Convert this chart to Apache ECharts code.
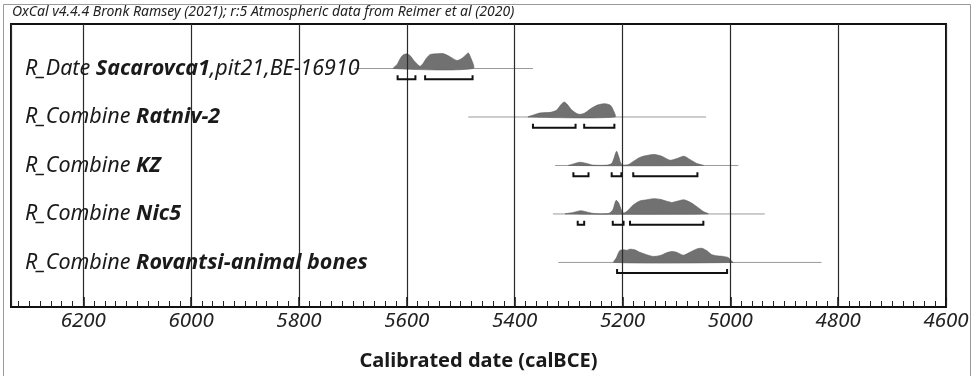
<!DOCTYPE html>
<html>
<head>
<meta charset="utf-8">
<script src="https://cdn.jsdelivr.net/npm/echarts@6/dist/echarts.min.js"></script>
<style>
  html, body { margin: 0; padding: 0; background: #fff; }
  #chart { width: 972px; height: 376px; }
</style>
</head>
<body>
<div id="chart"></div>
<script>
// ---- text ----
const headerText = 'OxCal v4.4.4 Bronk Ramsey (2021); r:5 Atmospheric data from Reimer et al (2020)';
const axisTitle = 'Calibrated date (calBCE)';

// ---- axis (calendar years BCE, drawn right-to-left) ----
const axisFrom = 4600;
const axisTo = 6334;
const majorStep = 200;
const minorStep = 20;

// ---- rows ----
const rowKinds = ['R_Date', 'R_Combine', 'R_Combine', 'R_Combine', 'R_Combine'];
const rowNames = ['Sacarovca1', 'Ratniv-2', 'KZ', 'Nic5', 'Rovantsi-animal bones'];
const rowSuffixes = [',pit21,BE-16910', '', '', '', ''];

// full extent of each calibrated distribution (thin line)
const extentStart = [5698, 5486, 5325, 5329, 5319];
const extentEnd = [5366, 5045, 4985, 4936, 4831];

// posterior / likelihood densities (year BCE, relative density)
const sacarovcaYears = [5625, 5618, 5612, 5607, 5600, 5594, 5587, 5579, 5575, 5570, 5564, 5557, 5546, 5533, 5520, 5507, 5498, 5490, 5486, 5483, 5477];
const sacarovcaDensity = [0, 0.26, 0.65, 0.87, 0.95, 0.84, 0.52, 0.23, 0.15, 0.32, 0.65, 0.9, 0.95, 0.97, 0.77, 0.52, 0.65, 0.9, 1.01, 0.84, 0];

const ratnivYears = [5375, 5365, 5353, 5334, 5322, 5313, 5308, 5303, 5294, 5285, 5279, 5270, 5257, 5245, 5232, 5223, 5218, 5214];
const ratnivDensity = [0, 0.13, 0.26, 0.3, 0.45, 0.84, 0.97, 0.84, 0.45, 0.23, 0.17, 0.26, 0.58, 0.79, 0.86, 0.77, 0.52, 0];

const kzYears = [5300, 5291, 5279, 5266, 5254, 5229, 5220, 5216, 5211, 5207, 5203, 5198, 5189, 5180, 5168, 5155, 5140, 5127, 5112, 5099, 5086, 5075, 5062, 5050];
const kzDensity = [0, 0.1, 0.21, 0.13, 0.02, 0.02, 0.13, 0.45, 0.92, 0.58, 0.13, 0.02, 0.06, 0.26, 0.52, 0.65, 0.71, 0.6, 0.34, 0.45, 0.6, 0.39, 0.13, 0];

const nic5Years = [5306, 5291, 5277, 5263, 5251, 5226, 5218, 5212, 5207, 5202, 5198, 5191, 5180, 5168, 5155, 5143, 5130, 5109, 5097, 5086, 5072, 5059, 5050, 5041];
const nic5Density = [0, 0.1, 0.21, 0.1, 0.02, 0.03, 0.26, 0.88, 0.71, 0.26, 0.06, 0.19, 0.58, 0.84, 0.92, 0.99, 0.95, 0.75, 0.84, 0.92, 0.71, 0.39, 0.16, 0];

const rovantsiYears = [5216, 5211, 5205, 5198, 5192, 5186, 5177, 5168, 5155, 5143, 5130, 5118, 5109, 5099, 5087, 5075, 5062, 5053, 5044, 5035, 5025, 5013, 5004, 4999, 4995];
const rovantsiDensity = [0, 0.32, 0.77, 0.82, 0.79, 0.86, 0.82, 0.66, 0.5, 0.39, 0.45, 0.63, 0.71, 0.65, 0.47, 0.66, 0.88, 0.92, 0.77, 0.52, 0.43, 0.39, 0.32, 0.13, 0];

const densityYears = [sacarovcaYears, ratnivYears, kzYears, nic5Years, rovantsiYears];
const densityValues = [sacarovcaDensity, ratnivDensity, kzDensity, nic5Density, rovantsiDensity];

// highest posterior density ranges (from, to) per row
const hpdRanges = [
  [[5617, 5584], [5566, 5478]],
  [[5366, 5287], [5271, 5215]],
  [[5291, 5263], [5220, 5202], [5180, 5061]],
  [[5283, 5271], [5218, 5198], [5186, 5050]],
  [[5210, 5006]]
];

// ---- drawing constants ----
const PEAK = 0.318;        // density 1.0 in row units
const BRACKET_DROP = 0.22; // bracket distance below the baseline, row units
const BRACKET_TIP = 4;     // bracket end tick height, px
const FONT = '"Noto Sans", sans-serif';

const chart = echarts.init(document.getElementById('chart'), null, { renderer: 'canvas' });

const rowItems = rowNames.map((_, i) => [extentStart[i], i]);
const bracketItems = [];
hpdRanges.forEach((list, r) => list.forEach(([a, b]) => bracketItems.push([a, b, r])));

const option = {
  animation: false,
  backgroundColor: '#fff',
  grid: {
    left: 11, right: 26, top: 24, bottom: 67,
    show: true, borderColor: '#111', borderWidth: 2, backgroundColor: 'transparent'
  },
  xAxis: [
    {
      type: 'value', min: axisFrom, max: axisTo, interval: majorStep, inverse: true,
      position: 'bottom',
      name: axisTitle, nameLocation: 'middle', nameGap: 44,
      nameTextStyle: { fontFamily: FONT, fontWeight: 'bold', fontSize: 20, color: '#1a1a1a' },
      axisLine: { show: true, onZero: false, lineStyle: { color: '#111', width: 2 } },
      axisTick: { show: true, inside: true, length: 10, lineStyle: { color: '#111', width: 1.5 } },
      axisLabel: {
        show: true, margin: 4, fontFamily: FONT, fontStyle: 'italic', fontSize: 20.5, color: '#222',
        showMaxLabel: false,
        formatter: v => (v % majorStep === 0 ? String(v) : '')
      },
      splitLine: { show: true, lineStyle: { color: '#2a2a2a', width: 1.2 } }
    },
    {
      type: 'value', min: axisFrom, max: axisTo, interval: minorStep, inverse: true,
      position: 'bottom',
      axisLine: { show: false, onZero: false },
      axisTick: { show: true, inside: true, length: 6, lineStyle: { color: '#222', width: 1 } },
      axisLabel: { show: false },
      splitLine: { show: false }
    }
  ],
  yAxis: {
    type: 'value', min: -0.918, max: 4.919, inverse: true, show: false
  },
  graphic: [
    {
      type: 'rect', silent: true, z: 0,
      shape: { x: 3.5, y: 4.5, width: 967, height: 390 },
      style: { fill: 'none', stroke: '#9a9a9a', lineWidth: 1 }
    },
    {
      type: 'text', left: 12, top: 5, z: 10,
      style: { text: headerText, font: 'italic 14px ' + FONT, fill: '#222' }
    }
  ],
  series: [
    {
      // full extent line of each distribution
      type: 'custom', name: 'extent', z: -2,
      data: rowItems,
      encode: { x: 0, y: 1 },
      renderItem: (params, api) => {
        const r = api.value(1);
        const p1 = api.coord([extentStart[r], r]);
        const p2 = api.coord([extentEnd[r], r]);
        return {
          type: 'line',
          shape: { x1: p1[0], y1: p1[1], x2: p2[0], y2: p2[1] },
          style: { stroke: '#9a9a9a', lineWidth: 1 }
        };
      }
    },
    {
      // probability densities
      type: 'custom', name: 'density', z: -1,
      data: rowItems,
      encode: { x: 0, y: 1 },
      renderItem: (params, api) => {
        const r = api.value(1);
        const ys = densityYears[r];
        const ds = densityValues[r];
        const pts = ys.map((y, k) => api.coord([y, r - ds[k] * PEAK]));
        return {
          type: 'polygon',
          shape: { points: pts, smooth: 0.25 },
          style: { fill: '#717171', stroke: '#5e5e5e', lineWidth: 0.6 }
        };
      }
    },
    {
      // HPD range brackets
      type: 'custom', name: 'ranges', z: 3,
      data: bracketItems,
      encode: { x: [0, 1], y: 2 },
      renderItem: (params, api) => {
        const r = api.value(2);
        const a = api.coord([api.value(0), r + BRACKET_DROP]);
        const b = api.coord([api.value(1), r + BRACKET_DROP]);
        return {
          type: 'polyline',
          shape: { points: [[a[0], a[1] - BRACKET_TIP], a, b, [b[0], b[1] - BRACKET_TIP]] },
          style: { fill: null, stroke: '#111', lineWidth: 2 }
        };
      }
    },
    {
      // row names
      type: 'custom', name: 'labels', z: 4,
      data: rowItems,
      encode: { x: 0, y: 1 },
      renderItem: (params, api) => {
        const r = api.value(1);
        const y = api.coord([axisTo, r])[1];
        return {
          type: 'text',
          x: params.coordSys.x + 14, y: y,
          style: {
            text: '{k|' + rowKinds[r] + ' }{n|' + rowNames[r] + '}' + (rowSuffixes[r] ? '{k|' + rowSuffixes[r] + '}' : ''),
            verticalAlign: 'middle', align: 'left',
            rich: {
              k: { fontFamily: FONT, fontStyle: 'italic', fontSize: 21.5, fill: '#1a1a1a' },
              n: { fontFamily: FONT, fontStyle: 'italic', fontWeight: 'bold', fontSize: 21.5, fill: '#1a1a1a' }
            }
          }
        };
      }
    }
  ]
};

chart.setOption(option);
</script>
</body>
</html>
